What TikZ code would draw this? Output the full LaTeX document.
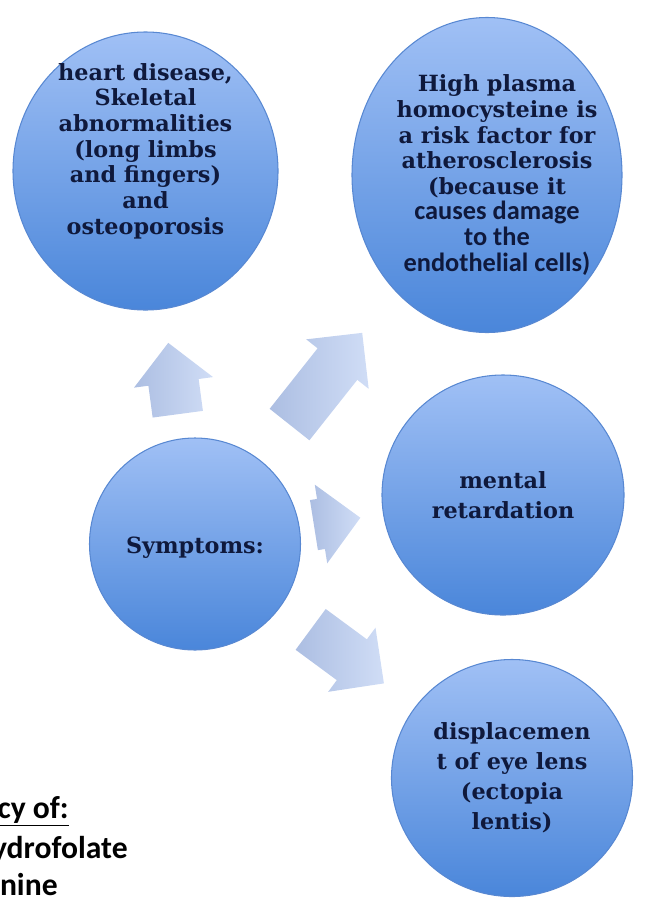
\documentclass[tikz,border=0pt]{standalone}
\usepackage{fontspec}
\usepackage{xcolor}
\usetikzlibrary{shapes,arrows,positioning,calc}

\newfontfamily\bubfont{DejaVu Serif}
\newfontfamily\calfont{Carlito}
\newcommand{\calb}{\calfont\bfseries\fontsize{15}{14.6}\selectfont}

\definecolor{bubtop}{RGB}{160,192,245}
\definecolor{bubbot}{RGB}{74,134,218}
\definecolor{bubedge}{RGB}{88,136,210}
\definecolor{arrlight}{RGB}{208,221,246}
\definecolor{arrdark}{RGB}{172,190,226}
\definecolor{navy}{RGB}{15,25,60}

\begin{document}
\begin{tikzpicture}[
    bubble/.style={ellipse, top color=bubtop, bottom color=bubbot, draw=bubedge, line width=0.6pt, inner sep=0pt},
    bubtext/.style={text=navy, align=center, inner sep=0pt, font=\bubfont\bfseries\fontsize{12.7}{14.6}\selectfont},
    roomy/.style={font=\bubfont\bfseries\fontsize{12.7}{17}\selectfont},
    blockarrow/.style={single arrow, anchor=tail, left color=arrdark, right color=arrlight, inner xsep=0pt, inner ysep=0.5cm, single arrow head extend=0.29cm, single arrow tip angle=90},
    frag/.style={anchor=base east, inner sep=0pt, font=\calfont\bfseries\fontsize{18}{20}\selectfont, text=black}
]
\useasboundingbox (0,0) rectangle (12.92,-17.98);
\clip (0,0) rectangle (12.92,-17.98);

% circles
\node[bubble, minimum width=4.22cm, minimum height=4.24cm] (sym) at (3.90,-10.88) {};
\node[bubble, minimum width=5.3cm, minimum height=5.56cm] (heart) at (2.91,-3.42) {};
\node[bubble, minimum width=5.4cm, minimum height=6.3cm] (plasma) at (9.74,-3.50) {};
\node[bubble, minimum width=4.84cm, minimum height=4.8cm] (mental) at (10.06,-9.90) {};
\node[bubble, minimum width=4.82cm, minimum height=4.74cm] (lens) at (10.24,-15.56) {};

% texts
\node[bubtext, yshift=-0.08cm] (sym text) at (sym) {Symptoms:};
\node[bubtext, yshift=0.4cm] (heart text) at (heart) {heart disease,\\Skeletal\\abnormalities\\(long limbs\\and fingers)\\and\\osteoporosis};
\node[bubtext, xshift=0.2cm] (plasma text) at (plasma) {High plasma\\homocysteine is\\a risk factor for\\atherosclerosis\\(because it\\{\calb causes damage}\\{\calb to the}\\{\calb endothelial cells)}};
\node[bubtext, roomy] (mental text) at (mental) {mental\\retardation};
\node[bubtext, roomy] (lens text) at (lens) {displacemen\\t of eye lens\\(ectopia\\lentis)};

% arrows
\node[blockarrow, minimum height=1.44cm, rotate=97.6] (up) at ($(sym)!0.347!(heart)$) {};
\node[blockarrow, minimum height=2.34cm, rotate=51.6] (diag) at ($(sym)!0.323!(plasma)$) {};
\node[blockarrow, minimum height=0.94cm, rotate=9] (right) at ($(sym)!0.385!(mental)$) {};
\node[blockarrow, minimum height=1.82cm, rotate=-36.4] (down) at ($(sym)!0.364!(lens)$) {};

% cut-off text at the left edge
\node[frag] (defic) at (1.38,-16.36) {\underline{cy of:}};
\node[frag] (folate) at (2.56,-17.16) {ydrofolate};
\node[frag] (nine) at (1.16,-17.90) {nine};

\end{tikzpicture}
\end{document}
